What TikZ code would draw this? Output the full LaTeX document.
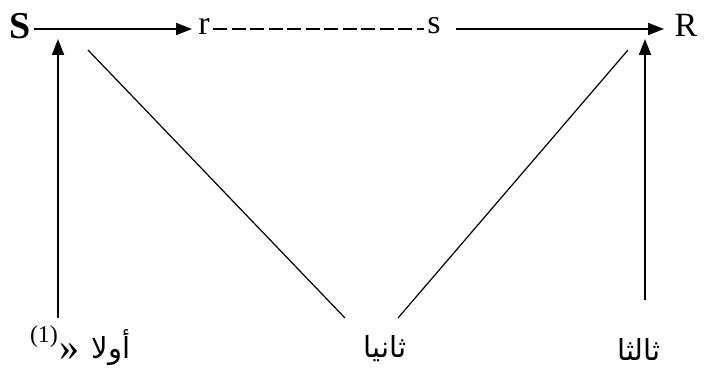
\documentclass[tikz,border=0pt]{standalone}
\usepackage{fontspec}
\setmainfont{Liberation Serif}
\newfontfamily\arabicfont[Script=Arabic]{DejaVu Sans}
\TeXXeTstate=1
\usetikzlibrary{arrows.meta}
\begin{document}
\begin{tikzpicture}[x=1pt,y=-1pt,
  lbl/.style={inner sep=0pt,font=\fontsize{34}{34}\selectfont},
  arlbl/.style={inner sep=0pt,font=\arabicfont\fontsize{29}{34}\selectfont},
  arr/.style={line width=1.8pt,-{Triangle[length=16pt,width=12pt]}},
  thin/.style={line width=1.2pt},
  dashline/.style={line width=1.7pt,dash pattern=on 14pt off 4.5pt}]
\useasboundingbox (0,0) rectangle (710,374);
% top labels
\node[lbl,font=\fontsize{38}{38}\selectfont\bfseries] (S) at (20,26) {S};
\node[lbl] (r) at (204,26) {r};
\node[lbl] (s) at (434,26) {s};
\node[lbl] (R) at (686,25) {R};
% top connectors
\coordinate (a1) at (34,29);
\coordinate (a2) at (192,29);
\coordinate (d1) at (213,29);
\coordinate (d2) at (424,29);
\coordinate (b1) at (456,29);
\coordinate (b2) at (664,29);
\draw[arr] (a1) -- (a2);
\draw[dashline] (d1) -- (d2);
\draw[arr] (b1) -- (b2);
% bottom labels
\node[inner sep=0pt,font=\fontsize{24}{24}\selectfont] (one) at (44,337) {(1)};
\node[inner sep=0pt,font=\fontsize{40}{40}\selectfont] (q) at (69,352) {»};
\node[arlbl] (first) at (111,348) {\beginR أولا\endR};
\node[arlbl] (second) at (385,349) {\beginR ثانيا\endR};
\node[arlbl] (third) at (639,349) {\beginR ثالثا\endR};
% vertical arrows
\coordinate (v1b) at (58,318);
\coordinate (v1t) at (58,39);
\coordinate (v2b) at (645,300);
\coordinate (v2t) at (645,39);
\draw[arr] (v1b) -- (v1t);
\draw[arr] (v2b) -- (v2t);
% diagonals
\coordinate (l1) at (88,50);
\coordinate (l2) at (345,318);
\coordinate (m1) at (398,318);
\coordinate (m2) at (628,50);
\draw[thin] (l1) -- (l2);
\draw[thin] (m1) -- (m2);
\end{tikzpicture}
\end{document}
